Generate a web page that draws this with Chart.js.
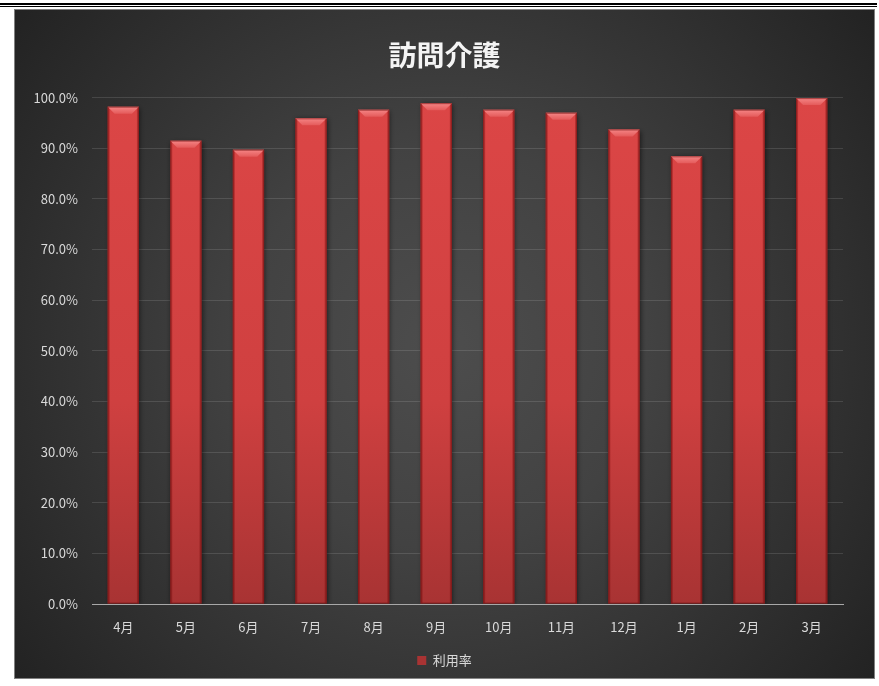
<!DOCTYPE html>
<html>
<head>
<meta charset="utf-8">
<script src="https://cdn.jsdelivr.net/npm/chart.js@4/dist/chart.umd.min.js"></script>
<style>
  html, body { margin: 0; padding: 0; background: #fff; }
  #wrap { width: 879px; height: 686px; }
</style>
</head>
<body>
<div id="wrap"><canvas id="c" width="879" height="686"></canvas></div>
<script>
// データ（利用率 %）
var CHART_TITLE = "訪問介護";
var SERIES_NAME = "利用率";
var MONTHS = ["4月", "5月", "6月", "7月", "8月", "9月", "10月", "11月", "12月", "1月", "2月", "3月"];
var RATES = [98.2, 91.5, 89.7, 95.9, 97.6, 98.9, 97.6, 97.0, 93.7, 88.4, 97.6, 99.9];
var Y_MIN = 0, Y_MAX = 100, Y_STEP = 10;

var FONT = "'Noto Sans CJK JP', 'Noto Sans', sans-serif";

function barFill(ctx) {
  var area = ctx.chart.chartArea;
  if (!area) return "#d24343";
  var g = ctx.chart.ctx.createLinearGradient(0, area.top, 0, area.bottom);
  g.addColorStop(0, "#dc4646");
  g.addColorStop(0.6, "#cf4040");
  g.addColorStop(1, "#a83333");
  return g;
}

// 背景（黒い罫線 + 暗いラジアルグラデーション）
var backdrop = {
  id: "backdrop",
  beforeDraw: function (chart) {
    var c = chart.ctx;
    c.save();
    c.fillStyle = "#fff";
    c.fillRect(0, 0, chart.width, chart.height);
    c.fillStyle = "#000";
    c.fillRect(0, 3, 877, 2);
    c.fillRect(0, 6, 877, 1);
    var g = c.createRadialGradient(445, 345, 0, 445, 345, 580);
    g.addColorStop(0, "#4d4d4d");
    g.addColorStop(0.35, "#424242");
    g.addColorStop(1, "#1f1f1f");
    c.fillStyle = g;
    c.fillRect(14, 9, 861, 670);
    c.strokeStyle = "rgba(190,190,190,0.6)";
    c.lineWidth = 1;
    c.strokeRect(14.5, 9.5, 860, 669);
    c.restore();
  }
};

// 棒の面取り（上端のハイライト・側面の影）
var bevel = {
  id: "bevel",
  beforeDatasetsDraw: function (chart) {
    var c = chart.ctx;
    c.save();
    c.shadowColor = "rgba(0,0,0,0.55)";
    c.shadowBlur = 5;
    c.shadowOffsetX = 1;
    c.shadowOffsetY = 1;
  },
  afterDatasetsDraw: function (chart) {
    var c = chart.ctx;
    c.restore();
    c.save();
    chart.getDatasetMeta(0).data.forEach(function (bar) {
      var l = bar.x - bar.width / 2, r = bar.x + bar.width / 2, t = bar.y, b = bar.base;
      var ch = 7;
      // 側面
      c.fillStyle = "rgba(110,10,10,0.35)";
      c.fillRect(l, t, 2, b - t);
      c.fillRect(r - 2, t, 2, b - t);
      // 上面
      var g = c.createLinearGradient(0, t, 0, t + ch);
      g.addColorStop(0, "#f58686");
      g.addColorStop(1, "#e45a5a");
      c.fillStyle = g;
      c.beginPath();
      c.moveTo(l, t);
      c.lineTo(r, t);
      c.lineTo(r - ch, t + ch);
      c.lineTo(l + ch, t + ch);
      c.closePath();
      c.fill();
      c.strokeStyle = "rgba(120,20,20,0.6)";
      c.lineWidth = 1;
      c.strokeRect(l + 0.5, t + 0.5, r - l - 1, b - t - 1);
    });
    c.restore();
  }
};

new Chart(document.getElementById("c"), {
  type: "bar",
  data: {
    labels: MONTHS,
    datasets: [{
      label: SERIES_NAME,
      data: RATES,
      backgroundColor: barFill,
      borderWidth: 0,
      categoryPercentage: 1,
      barPercentage: 0.5
    }]
  },
  options: {
    responsive: false,
    animation: false,
    devicePixelRatio: 1,
    layout: { padding: { left: 14, right: 4, top: 35, bottom: 9 } },
    plugins: {
      title: {
        display: true,
        text: CHART_TITLE,
        color: "#f4f4f4",
        font: { family: FONT, size: 28, weight: "bold" },
        padding: { top: 4, bottom: 25 }
      },
      legend: {
        position: "bottom",
        labels: {
          color: "#d9d9d9",
          font: { family: FONT, size: 13 },
          boxWidth: 9,
          boxHeight: 9,
          padding: 10
        }
      },
      tooltip: { enabled: false }
    },
    scales: {
      x: {
        grid: { display: false, drawTicks: false },
        border: { display: true, color: "#a8a8a8", width: 1 },
        ticks: { color: "#d9d9d9", font: { family: FONT, size: 13 }, padding: 15 },
        afterFit: function (s) { s.height = 40; }
      },
      y: {
        min: Y_MIN, max: Y_MAX,
        grid: { color: "rgba(255,255,255,0.12)", drawTicks: false },
        border: { display: false },
        ticks: {
          stepSize: Y_STEP,
          color: "#d9d9d9",
          font: { family: FONT, size: 13 },
          padding: 14,
          callback: function (v) { return v.toFixed(1) + "%"; }
        },
        afterFit: function (s) { s.width = 78; }
      },
      yRight: {
        type: "linear",
        position: "right",
        grid: { display: false, drawTicks: false },
        border: { display: false },
        ticks: { display: false },
        afterFit: function (s) { s.width = 32; }
      }
    }
  },
  plugins: [backdrop, bevel]
});
</script>
</body>
</html>
